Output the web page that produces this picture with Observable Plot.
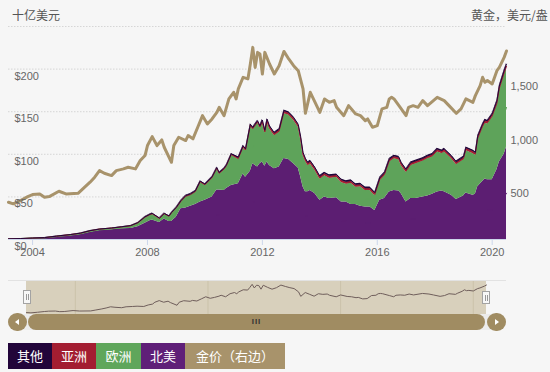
<!DOCTYPE html>
<html><head><meta charset="utf-8">
<script src="https://cdn.jsdelivr.net/npm/d3@7"></script>
<script src="https://cdn.jsdelivr.net/npm/@observablehq/plot@0.6"></script>
<style>
body{margin:0;background:#f6f6f6;font-family:"Liberation Sans",Arial,sans-serif;}
#wrap{position:relative;width:550px;height:372px;overflow:hidden;background:#f6f6f6;}
#wrap svg{position:absolute;left:0;}
.ttl{position:absolute;top:7px;font:12px/16px "Noto Sans CJK SC",sans-serif;color:#555;white-space:nowrap;}
.box{position:absolute;}
#legend{position:absolute;left:8px;top:343px;display:flex;}
#legend div{height:26px;line-height:26px;text-align:center;color:#fff;font:13px/26px "Noto Sans CJK SC",sans-serif;}
</style></head><body><div id="wrap"></div>
<script>
// ---- data: ETF gold holdings by region (billion USD) ----
const stackDates = ["2003-03","2003-08","2004-01","2004-06","2004-11","2005-05","2005-09","2006-01","2006-05","2006-10",
"2007-02","2007-06","2007-09","2007-12","2008-02","2008-03","2008-06","2008-08","2008-10","2008-11",
"2009-01","2009-03","2009-05","2009-07","2009-09","2009-11","2010-01","2010-04","2010-06","2010-07",
"2010-09","2010-10","2010-12","2011-03","2011-05","2011-06","2011-08","2011-09","2011-11","2011-12",
"2012-01","2012-02","2012-03","2012-04","2012-06","2012-08","2012-10","2012-12","2013-02","2013-04",
"2013-05","2013-06","2013-07","2013-08","2013-09","2013-11","2014-01","2014-03","2014-05","2014-08",
"2014-10","2014-12","2015-02","2015-04","2015-06","2015-08","2015-10","2015-12","2016-02","2016-04",
"2016-06","2016-08","2016-10","2016-11","2017-01","2017-03","2017-05","2017-08","2017-10","2017-12",
"2018-02","2018-04","2018-05","2018-08","2018-10","2019-01","2019-02","2019-05","2019-06","2019-07",
"2019-09","2019-10","2019-11","2020-01","2020-03","2020-04","2020-06","2020-07"];
const northAmerica = [0.5,0.8,1.2,1.5,3,4.5,6,8.5,10.5,11.5,
12.5,13,15,19,22,23,20,24,21,21,
26,36,37,39,41,44,46,50,58,58,
57.6,60,63.5,65.5,77,73,80,89,85,89,
91,86,91,87,83,85,95,94,89,84,
74,62,56,56,57.6,53.7,46,50,48,49,
44,44,41,41,39,38,38,34,46,48,
55.7,57.6,57,53.7,44,48,48,50,51,53,
55.7,57,56,52,47,51,54.5,52,53,62,
68,71,70,70,82,91,100,108.6];
const europe = [0.2,0.3,0.5,0.7,0.8,1.2,1.3,1.7,1.6,1.8,
2.2,3.0,4.5,7.0,7.0,7.0,4.5,6.0,6.0,10.0,
11.0,8.3,13.3,13.3,14.9,23.3,17.8,22.3,25.3,19.3,
24.7,26.3,35.8,28.8,30.9,31.3,53.3,40.3,52.3,42.3,
46,39,47,43,39,41,53,52,51,48,
44,37,36,31,31.4,27.3,25,25,24,24,
23,21,25,20.5,23,19.5,19.5,17.7,23,27,
35.3,37.4,36.6,33.3,35,39,41,42,44,44,
47.3,44,47,43,41,42.6,50.1,49,46,55.5,
63.5,65.5,65.5,73.5,76.2,84.7,93.7,92.8];
const asia = [0,0,0,0,0.1,0.1,0.1,0.1,0.1,0.1,
0.1,0.2,0.2,0.4,0.4,0.4,0.4,0.4,0.4,0.4,
0.4,0.8,0.8,0.8,0.8,0.8,0.8,0.8,0.8,0.8,
0.8,0.8,0.8,1.5,1.5,1.5,1.5,1.5,1.5,1.5,
2.5,2.5,2.5,2.5,2.5,2.5,2.5,2.5,2.5,2.5,
2.5,2.5,2.5,2.5,2.5,2.5,2.5,2.5,2.5,2.5,
2.5,2.5,2.5,2.5,2.5,2.5,2.5,2.5,2.5,2.5,
2.5,2.5,2.5,2.5,2.5,2.5,2.5,2.5,2.5,2.5,
2.5,2.5,2.5,2.5,2.5,2.5,2.5,2.5,2.5,3,
3,3,3,3,3.5,3.5,3.5,3.5];
const other = [0.1,0.1,0.1,0.1,0.2,0.2,0.2,0.2,0.2,0.2,
0.2,0.3,0.3,0.6,0.6,0.6,0.6,0.6,0.6,0.6,
0.6,0.9,0.9,0.9,0.9,0.9,0.9,0.9,0.9,0.9,
0.9,0.9,0.9,1.2,1.2,1.2,1.2,1.2,1.2,1.2,
1.5,1.5,1.5,1.5,1.5,1.5,1.5,1.5,1.5,1.5,
1.5,1.5,1.5,1.5,1.5,1.5,1.5,1.5,1.5,1.5,
1.5,1.5,1.5,1.5,1.5,1.5,1.5,1.5,1.5,1.5,
1.5,1.5,1.5,1.5,1.5,1.5,1.5,1.5,1.5,1.5,
1.5,1.5,1.5,1.5,1.5,1.5,1.5,1.5,1.5,1.5,
1.5,1.5,1.5,1.5,1.8,1.8,1.8,1.8];

// ---- gold price (USD/oz, right axis) ----
const goldDates = ["2003-03","2003-05","2003-08","2003-11","2004-01","2004-04","2004-06","2004-08","2004-12","2005-03",
"2005-08","2005-10","2006-01","2006-03","2006-05","2006-07","2006-10","2006-12","2007-03","2007-05",
"2007-08","2007-10","2007-12","2008-01","2008-03","2008-05","2008-07","2008-08","2008-11","2008-12",
"2009-02","2009-05","2009-06","2009-08","2009-10","2009-12","2010-02","2010-04","2010-06","2010-07",
"2010-09","2010-11","2011-01","2011-02","2011-03","2011-05","2011-07","2011-08","2011-09","2011-10",
"2011-11","2011-12","2012-01","2012-02","2012-04","2012-06","2012-08","2012-10","2012-12","2013-02",
"2013-04","2013-06","2013-07","2013-09","2013-11","2014-01","2014-03","2014-05","2014-07","2014-08",
"2014-11","2015-01","2015-04","2015-06","2015-08","2015-09","2015-11","2016-01","2016-03","2016-05",
"2016-06","2016-07","2016-08","2016-11","2017-01","2017-02","2017-04","2017-06","2017-08","2017-10",
"2018-02","2018-05","2018-07","2018-10","2018-12","2019-02","2019-05","2019-06","2019-08","2019-09",
"2019-10","2019-11","2020-01","2020-03","2020-04","2020-06","2020-07"];
const goldPrice = [350,335,366,403,422,428,397,403,453,428,
434,476,538,585,647,622,600,647,663,678,
663,741,788,882,966,882,935,866,725,882,
960,929,976,945,1054,1163,1085,1132,1194,1241,
1163,1320,1382,1320,1414,1523,1508,1648,1804,1616,
1757,1742,1554,1757,1648,1554,1632,1766,1695,1632,
1585,1414,1185,1382,1288,1194,1320,1288,1304,1241,
1163,1257,1179,1163,1116,1132,1054,1069,1226,1241,
1320,1335,1320,1226,1163,1241,1257,1241,1304,1257,
1335,1304,1257,1185,1226,1320,1288,1351,1445,1523,
1476,1492,1461,1585,1616,1710,1770];

const regions = ["其他","亚洲","欧洲","北美"];
const regionColors = ["#22053a","#a51d31","#5ea35a","#5c1e72"];
const goldColor = "#a8936b";
const legendLabels = ["其他","亚洲","欧洲","北美","金价（右边）"];
const legendColors = ["#22053a","#a31d31","#5fa65b","#5f1f78","#a8936b"];
const yTicksLeft = [0,50,100,150,200];
const yGrid = [50,100,150,200,250];
const yTicksRight = [500,1000,1500];
const xTickYears = [2004,2008,2012,2016,2020];
const navGridYears = [2005,2010,2015,2020];
const leftTitle = "十亿美元";
const rightTitle = "黄金，美元/盎";

const parse = d3.utcParse("%Y-%m");
const rows = [];
stackDates.forEach((d,i)=>{
  const date = parse(d);
  rows.push({date, region:"北美", value:northAmerica[i]});
  rows.push({date, region:"欧洲", value:europe[i]});
  rows.push({date, region:"亚洲", value:asia[i]});
  rows.push({date, region:"其他", value:other[i]});
});
const gold = goldDates.map((d,i)=>({date:parse(d), price:goldPrice[i]}));
const RATIO = 8; // right axis 0–2000 shares the frame with left axis 0–250
const xDomain = [parse("2003-03"), parse("2020-07")];
const order = ["北美","欧洲","亚洲","其他"];
const yr = y => new Date(Date.UTC(y,0,1));

const wrap = document.getElementById("wrap");

const main = Plot.plot({
  width:550, height:262, marginTop:26, marginBottom:23, marginLeft:8, marginRight:44,
  style:{background:"transparent", fontFamily:"'Liberation Sans', Arial, sans-serif", fontSize:"11px", color:"#666", overflow:"visible"},
  x:{type:"utc", domain:xDomain},
  y:{domain:[0,250]},
  color:{domain:regions, range:regionColors},
  marks:[
    Plot.ruleY(yGrid, {stroke:"#d6d6d6", strokeDasharray:"1.5,1.5"}),
    Plot.areaY(rows, Plot.stackY({x:"date", y:"value", z:"region", fill:"region", order})),
    Plot.lineY(rows, Plot.stackY({x:"date", y:"value", z:"region", stroke:"region", order, strokeWidth:1})),
    Plot.ruleY([0], {stroke:"#ccd6eb"}),
    Plot.lineY(gold, {x:"date", y:d=>d.price/RATIO, stroke:goldColor, strokeWidth:3, strokeLinejoin:"round"}),
    Plot.axisX({ticks:xTickYears.map(yr), tickFormat:"%Y", tickSize:6, tickPadding:3, stroke:"#ccd6eb", fill:"#666", label:null}),
    Plot.axisY({anchor:"left", ticks:yTicksLeft, tickSize:0, tickPadding:0, dx:6, dy:7, textAnchor:"start", tickFormat:d=>"$"+d, fill:"#666", label:null}),
    Plot.axisY({anchor:"right", ticks:yTicksRight.map(v=>v/RATIO), tickSize:0, tickPadding:4, dy:7, textAnchor:"start", tickFormat:d=>d3.format(",")(d*RATIO), fill:"#666", label:null})
  ]
});
main.style.top = "0px";
wrap.appendChild(main);

function addDiv(css, html){ const d=document.createElement("div"); d.style.cssText=css; if(html) d.innerHTML=html; wrap.appendChild(d); return d; }
addDiv("position:absolute;left:12px;top:7px;font:12px/16px 'Noto Sans CJK SC',sans-serif;color:#555;").textContent = leftTitle;
addDiv("position:absolute;left:471px;top:7px;font:12px/16px 'Noto Sans CJK SC',sans-serif;color:#555;white-space:nowrap;").textContent = rightTitle;

// navigator
addDiv("position:absolute;left:8px;top:280px;width:498px;height:1px;background:#e2e2e2;");
addDiv("position:absolute;left:26px;top:281px;width:460px;height:33px;background:#d8d0bc;");
const nav = Plot.plot({
  width:550, height:33, marginTop:0, marginBottom:0, marginLeft:26, marginRight:64,
  style:{background:"transparent"},
  x:{type:"utc", domain:xDomain, axis:null},
  y:{domain:[250,1950], axis:null},
  marks:[
    Plot.ruleX(navGridYears.map(yr), {stroke:"#cbc2aa"}),
    Plot.lineY(gold, {x:"date", y:"price", stroke:"#6f5e5b", strokeWidth:1})
  ]
});
nav.style.top = "281px";
wrap.appendChild(nav);
const handle = "background:#f7f7f7;border:1px solid #a3a3a3;box-sizing:border-box;";
addDiv(`position:absolute;left:23px;top:290px;width:8px;height:14px;${handle}`, '<div style="position:absolute;left:2px;top:3px;width:1px;height:6px;background:#999"></div><div style="position:absolute;left:4px;top:3px;width:1px;height:6px;background:#999"></div>');
addDiv(`position:absolute;left:482px;top:291px;width:8px;height:13px;${handle}`, '<div style="position:absolute;left:2px;top:3px;width:1px;height:6px;background:#999"></div><div style="position:absolute;left:4px;top:3px;width:1px;height:6px;background:#999"></div>');
// scrollbar
addDiv("position:absolute;left:8px;top:314px;width:498px;height:16px;background:#ececec;border-radius:8px;");
addDiv("position:absolute;left:8px;top:313px;width:19px;height:18px;background:#a08c62;border-radius:9px;", '<div style="position:absolute;left:7px;top:6px;width:0;height:0;border-top:3px solid transparent;border-bottom:3px solid transparent;border-right:4px solid #fff"></div>');
addDiv("position:absolute;left:28px;top:314px;width:457px;height:16px;background:#a08c62;border-radius:8px;text-align:center;font:bold 8px/16px 'Liberation Sans',sans-serif;color:#333;letter-spacing:1px;", "III");
addDiv("position:absolute;left:487px;top:313px;width:19px;height:18px;background:#a08c62;border-radius:9px;", '<div style="position:absolute;left:8px;top:6px;width:0;height:0;border-top:3px solid transparent;border-bottom:3px solid transparent;border-left:4px solid #fff"></div>');

// legend
const widths = [44,44,45,44,100];
const leg = addDiv("position:absolute;left:8px;top:343px;display:flex;");
legendLabels.forEach((t,i)=>{
  const d = document.createElement("div");
  d.style.cssText = `width:${widths[i]}px;height:26px;background:${legendColors[i]};color:#fff;text-align:center;font:13px/26px 'Noto Sans CJK SC',sans-serif;`;
  d.textContent = t;
  leg.appendChild(d);
});
</script></body></html>
